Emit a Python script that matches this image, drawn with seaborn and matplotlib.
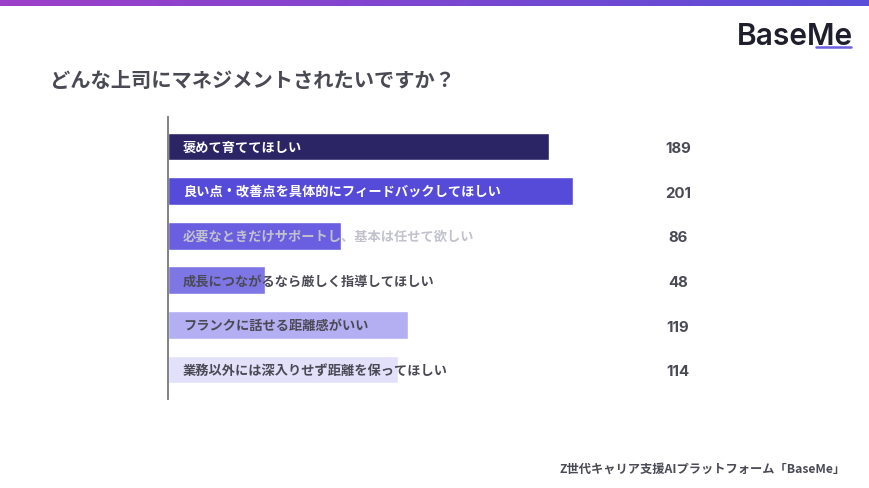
import numpy as np
import pandas as pd
import matplotlib
matplotlib.use("Agg")
import matplotlib.pyplot as plt
import seaborn as sns

# data
categories = [
    "褒めて育ててほしい",
    "良い点・改善点を具体的にフィードバックしてほしい",
    "必要なときだけサポートし、基本は任せて欲しい",
    "成長につながるなら厳しく指導してほしい",
    "フランクに話せる距離感がいい",
    "業務以外には深入りせず距離を保ってほしい",
]
counts = [189, 201, 86, 48, 119, 114]
bar_colors = ["#2b2566", "#564bd9", "#6a5fe0", "#7f76e6", "#b4aef2", "#e3e0fa"]
label_colors = ["#ffffff", "#ffffff", "#c2c2cc", "#4a4a55", "#4a4a55", "#4a4a55"]

title = "どんな上司にマネジメントされたいですか？"
footer = "Z世代キャリア支援AIプラットフォーム「BaseMe」"

df = pd.DataFrame({"category": categories, "count": counts})

sns.set_theme(style="white")
plt.rcParams["font.family"] = ["Noto Sans CJK JP", "DejaVu Sans"]

W, H = 870, 489
fig = plt.figure(figsize=(W / 100, H / 100), dpi=100)
fig.patch.set_facecolor("white")

# gradient strip at the top
grad_ax = fig.add_axes([0, 1 - 7 / H, 1, 7 / H])
grad = np.linspace(0, 1, 256).reshape(1, -1)
cmap = matplotlib.colors.LinearSegmentedColormap.from_list("top", ["#9d3fc9", "#5a4ed8"])
grad_ax.imshow(grad, aspect="auto", cmap=cmap)
grad_ax.axis("off")

# bar area
x_max = 270
px_per_unit = 2.015
ax_left, ax_top, ax_bottom = 168, 118, 400
ax = fig.add_axes([ax_left / W, 1 - ax_bottom / H,
                   x_max * px_per_unit / W, (ax_bottom - ax_top) / H])

sns.barplot(data=df, x="count", y="category", hue="category", palette=bar_colors,
            legend=False, width=0.62, ax=ax, saturation=1)
ax.set_xlim(0, x_max)
ax.set_ylim(5.66, -0.66)
ax.set_xlabel("")
ax.set_ylabel("")
ax.set_xticks([])
ax.set_yticks([])
for side in ["top", "right", "bottom"]:
    ax.spines[side].set_visible(False)
ax.spines["left"].set_color("#777777")
ax.spines["left"].set_linewidth(1.3)
ax.patch.set_alpha(0)

num_x = (678 - ax_left) / px_per_unit
for i, (cat, val) in enumerate(zip(categories, counts)):
    ax.text(7.4, i, cat, ha="left", va="center", fontsize=9.5,
            fontweight="bold", color=label_colors[i])
    ax.text(num_x, i + 0.04, str(val), ha="center", va="center", fontsize=10.8,
            fontweight="bold", color="#4a4a55", clip_on=False,
            family=["Inter", "DejaVu Sans"])

# title, logo and footer
fig.text(50 / W, 1 - 80 / H, title, ha="left", va="center", fontsize=14.6,
         fontweight="bold", color="#4a4a55")
fig.text(853 / W, 1 - 37 / H, "BaseMe", ha="right", va="center", fontsize=21.5,
         fontweight="semibold", color="#1e1e2c", family=["Inter", "DejaVu Sans"])
fig.add_artist(matplotlib.lines.Line2D([816 / W, 851 / W], [1 - 48 / H, 1 - 48 / H],
                                       color="#6a5fe0", linewidth=1.8))
fig.text(846 / W, 1 - 469 / H, footer, ha="right", va="center", fontsize=8.8,
         fontweight="bold", color="#4a4a55")

fig.savefig("out.png", dpi=100, facecolor="white")
